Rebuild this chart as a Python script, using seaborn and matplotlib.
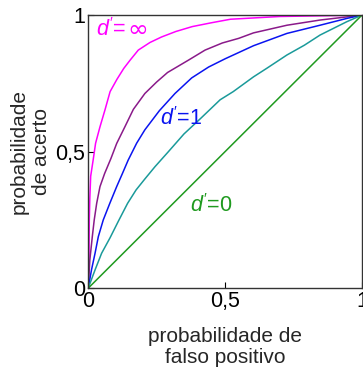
import matplotlib
matplotlib.use("Agg")
import matplotlib.pyplot as plt
import seaborn as sns
import pandas as pd

# Data (false-positive prob, hit prob)
fa_inf = [0, 0.003, 0.004, 0.006, 0.009, 0.018, 0.027, 0.043, 0.061, 0.08, 0.105,
          0.13, 0.153, 0.183, 0.226, 0.268, 0.32, 0.38, 0.45, 0.52, 0.7, 1]
hit_inf = [0, 0.12, 0.25, 0.33, 0.41, 0.469, 0.531, 0.591, 0.652, 0.72, 0.765,
           0.805, 0.835, 0.872, 0.9, 0.92, 0.94, 0.958, 0.972, 0.985, 0.995, 1]

fa_d2 = [0, 0.006, 0.015, 0.022, 0.031, 0.043, 0.06, 0.083, 0.104, 0.134, 0.165,
         0.207, 0.25, 0.29, 0.366, 0.427, 0.49, 0.55, 0.604, 0.726, 0.847, 1]
hit_d2 = [0, 0.104, 0.189, 0.25, 0.311, 0.372, 0.42, 0.475, 0.53, 0.591, 0.655,
          0.713, 0.755, 0.79, 0.835, 0.872, 0.898, 0.915, 0.935, 0.963, 0.982, 1]

fa_d1 = [0, 0.012, 0.025, 0.037, 0.055, 0.079, 0.104, 0.125, 0.146, 0.177, 0.207,
         0.26, 0.317, 0.378, 0.44, 0.5, 0.604, 0.726, 0.847, 0.945, 1]
hit_d1 = [0, 0.067, 0.128, 0.189, 0.25, 0.311, 0.372, 0.42, 0.469, 0.531, 0.58,
          0.65, 0.713, 0.77, 0.81, 0.84, 0.888, 0.933, 0.963, 0.988, 1]

fa_d05 = [0, 0.025, 0.049, 0.08, 0.11, 0.144, 0.175, 0.207, 0.244, 0.293, 0.35,
          0.409, 0.482, 0.53, 0.604, 0.652, 0.726, 0.79, 0.847, 0.945, 1]
hit_d05 = [0, 0.067, 0.128, 0.185, 0.245, 0.311, 0.36, 0.4, 0.445, 0.5, 0.565,
           0.62, 0.69, 0.72, 0.774, 0.805, 0.854, 0.89, 0.927, 0.976, 1]

fa_d0 = [0, 1]
hit_d0 = [0, 1]

series_names = ["inf", "d2", "d1", "d05", "d0"]
series_colors = ["#ff00ff", "#8a1a8a", "#0a14f0", "#1a9a9a", "#1f9a1f"]

tick_vals = [0, 0.5, 1]
tick_labels = ["0", "0,5", "1"]

frames = []
for name, fa, hit in zip(series_names,
                         [fa_inf, fa_d2, fa_d1, fa_d05, fa_d0],
                         [hit_inf, hit_d2, hit_d1, hit_d05, hit_d0]):
    frames.append(pd.DataFrame({"fa": fa, "hit": hit, "s": name}))
df = pd.concat(frames, ignore_index=True)

sns.set_style("white")
plt.rcParams["font.family"] = ["Liberation Sans", "DejaVu Sans"]
plt.rcParams["mathtext.fontset"] = "custom"
plt.rcParams["mathtext.it"] = "Liberation Sans:italic"
plt.rcParams["mathtext.rm"] = "Liberation Sans"

fig = plt.figure(figsize=(3.63, 3.69), dpi=100)
ax = fig.add_axes([0.243, 0.219, 0.754, 0.74])

for name, col in zip(series_names, series_colors):
    sub = df[df["s"] == name]
    sns.lineplot(data=sub, x="fa", y="hit", color=col, lw=1.1, ax=ax,
                 sort=False, estimator=None, legend=False)

ax.set_xlim(0, 1)
ax.set_ylim(0, 1)
ax.set_xticks(tick_vals)
ax.set_xticklabels(tick_labels)
ax.set_yticks(tick_vals)
ax.set_yticklabels(tick_labels)
ax.tick_params(direction="in", length=4, width=0.8, labelsize=15.5, pad=2,
               colors="black", bottom=True, left=True)
for sp in ax.spines.values():
    sp.set_color("#333333")
    sp.set_linewidth(1.0)

ax.set_xlabel("probabilidade de\nfalso positivo", fontsize=15, linespacing=1.15, labelpad=11)
ax.set_ylabel("probabilidade\nde acerto", fontsize=15, linespacing=1.25, labelpad=3)

t_inf = ax.text(0.028, 0.922, r"$d'$=", color="#ff00ff", fontsize=15.5,
                va="baseline", ha="left")
ax.text(0.262, 0.598, r"$d'$=1", color="#0a14f0", fontsize=15.5, va="baseline", ha="left")
ax.text(0.372, 0.28, r"$d'$=0", color="#1f9a1f", fontsize=15.5, va="baseline", ha="left")

fig.canvas.draw()
bb = t_inf.get_window_extent(renderer=fig.canvas.get_renderer())
x_end = ax.transData.inverted().transform((bb.x1, bb.y0))[0]
ax.text(x_end + 0.003, 0.92, "∞", color="#ff00ff", fontsize=18,
        family=["DejaVu Sans"], va="baseline", ha="left")

fig.savefig("out.png", dpi=100)
